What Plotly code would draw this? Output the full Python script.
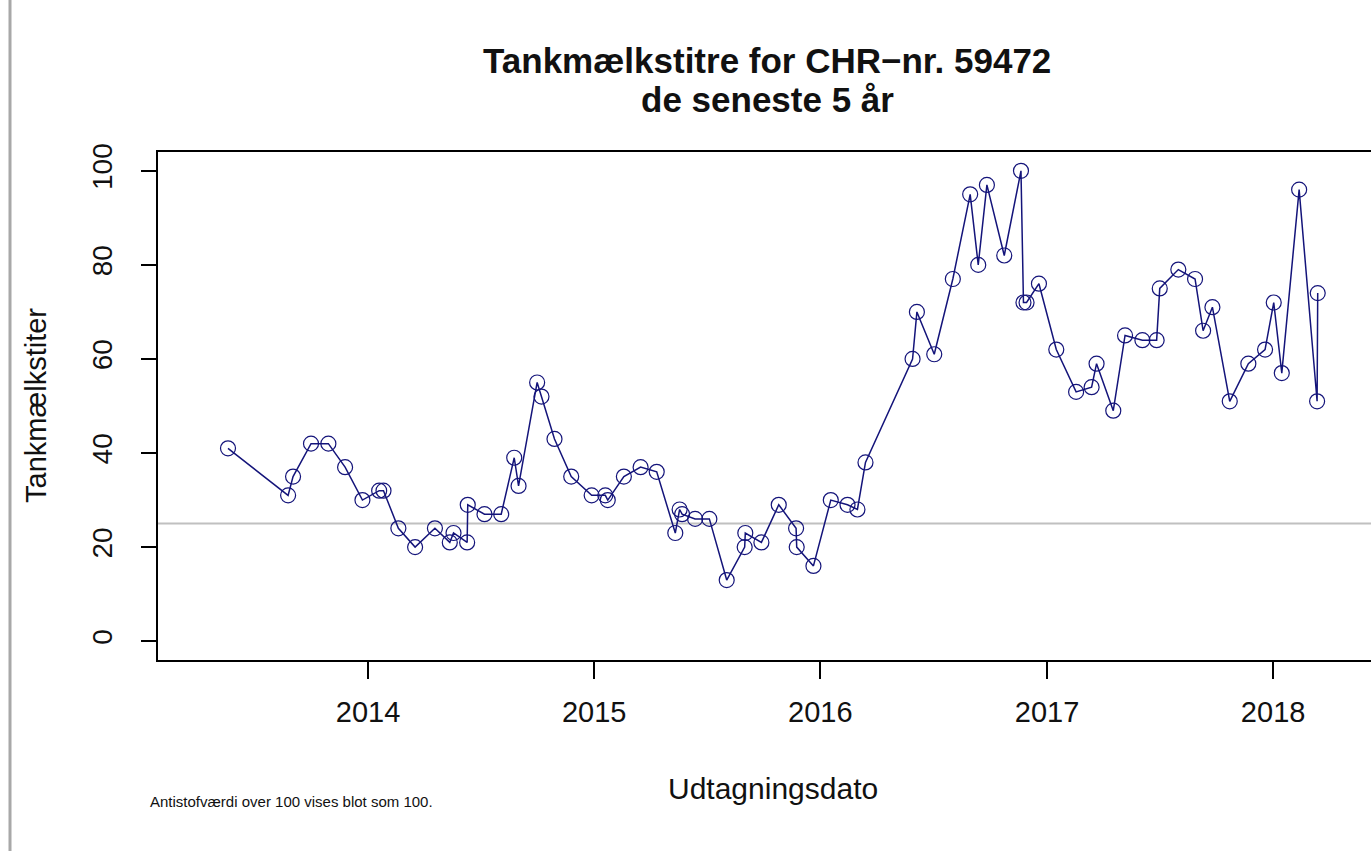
import plotly.graph_objects as go

# ---- data ----
dates = [
    "2013-05-20", "2013-08-25", "2013-09-02", "2013-10-01", "2013-10-29", "2013-11-25", "2013-12-23",
    "2014-01-19", "2014-01-26", "2014-02-19", "2014-03-18", "2014-04-19", "2014-05-13", "2014-05-19",
    "2014-06-10", "2014-06-11", "2014-07-08", "2014-08-04", "2014-08-25", "2014-09-01", "2014-10-01",
    "2014-10-08", "2014-10-29", "2014-11-25", "2014-12-28",
    "2015-01-19", "2015-01-23", "2015-02-18", "2015-03-17", "2015-04-12", "2015-05-12", "2015-05-19",
    "2015-05-23", "2015-06-13", "2015-07-06", "2015-08-03", "2015-09-01", "2015-09-02", "2015-09-28",
    "2015-10-26", "2015-11-23", "2015-11-24", "2015-12-21",
    "2016-01-18", "2016-02-14", "2016-03-01", "2016-03-14", "2016-05-29", "2016-06-05", "2016-07-03",
    "2016-08-02", "2016-08-30", "2016-09-12", "2016-09-26", "2016-10-24", "2016-11-20", "2016-11-24",
    "2016-11-29", "2016-12-19",
    "2017-01-16", "2017-02-17", "2017-03-14", "2017-03-22", "2017-04-18", "2017-05-07", "2017-06-04",
    "2017-06-27", "2017-07-02", "2017-08-01", "2017-08-28", "2017-09-10", "2017-09-25", "2017-10-23",
    "2017-11-22", "2017-12-19",
    "2018-01-02", "2018-01-15", "2018-02-12", "2018-03-13", "2018-03-14",
]
titre = [
    41, 31, 35, 42, 42, 37, 30,
    32, 32, 24, 20, 24, 21, 23, 21, 29, 27, 27, 39, 33, 55, 52, 43, 35, 31,
    31, 30, 35, 37, 36, 23, 28, 27, 26, 26, 13, 20, 23, 21, 29, 24, 20, 16,
    30, 29, 28, 38, 60, 70, 61, 77, 95, 80, 97, 82, 100, 72, 72, 76,
    62, 53, 54, 59, 49, 65, 64, 64, 75, 79, 77, 66, 71, 51, 59, 62,
    72, 57, 96, 51, 74,
]
x_tick_vals = ["2014-01-01", "2015-01-01", "2016-01-01", "2017-01-01", "2018-01-01"]
x_tick_text = ["2014", "2015", "2016", "2017", "2018"]
y_tick_vals = [0, 20, 40, 60, 80, 100]
threshold = 25

title_line1 = "Tankmælkstitre for CHR−nr. 59472"
title_line2 = "de seneste 5 år"
x_title = "Udtagningsdato"
y_title = "Tankmælkstiter"
footnote = "Antistofværdi over 100 vises blot som 100."

FONT = "Liberation Sans, Arial, sans-serif"
NAVY = "#14147a"

fig = go.Figure()
fig.add_trace(go.Scatter(
    x=dates, y=titre, mode="lines+markers",
    line=dict(color=NAVY, width=1.5),
    marker=dict(symbol="circle-open", size=15, color=NAVY, line=dict(width=1.2, color=NAVY)),
    showlegend=False, hoverinfo="x+y",
))

W, H = 1371, 851
L, T, B = 158, 152, 191


def px(xp):
    return (xp - L) / (W - L)


def py(yp):
    return (H - B - yp) / (H - T - B)


fig.add_shape(type="line", xref="paper", yref="y", x0=0, x1=1, y0=threshold, y1=threshold,
              line=dict(color="#c0c0c0", width=2), layer="below")
# page frame line on the far left
fig.add_shape(type="line", xref="paper", yref="paper",
              x0=px(10), x1=px(10), y0=py(851), y1=py(0),
              line=dict(color="#a8a8a8", width=3))

fig.update_layout(
    width=W, height=H,
    margin=dict(l=L, r=0, t=T, b=B, pad=0),
    paper_bgcolor="white", plot_bgcolor="white",
    font=dict(family=FONT, color="black"),
    xaxis=dict(
        range=["2013-01-27", "2018-06-08"],
        tickmode="array", tickvals=x_tick_vals, ticktext=x_tick_text,
        showgrid=False, zeroline=False,
        showline=True, linecolor="black", linewidth=2, mirror=True,
        ticks="outside", ticklen=17, tickwidth=2, tickcolor="black",
        tickfont=dict(size=29, family=FONT, color="#111"),
        ticklabelstandoff=8,
    ),
    yaxis=dict(
        range=[-4, 104],
        tickmode="array", tickvals=y_tick_vals,
        showgrid=False, zeroline=False,
        showline=True, linecolor="black", linewidth=2, mirror=False,
        ticks="outside", ticklen=15, tickwidth=2, tickcolor="black",
        tickangle=-90,
        tickfont=dict(size=28, family=FONT, color="#111"),
        ticklabelstandoff=18,
    ),
)

fig.add_annotation(text="<b>" + title_line1 + "</b>", xref="paper", yref="paper",
                   x=px(767), y=py(60), xanchor="center", yanchor="middle", showarrow=False,
                   font=dict(size=35, family=FONT, color="#111"))
fig.add_annotation(text="<b>" + title_line2 + "</b>", xref="paper", yref="paper",
                   x=px(767), y=py(100), xanchor="center", yanchor="middle", showarrow=False,
                   font=dict(size=35, family=FONT, color="#111"))
fig.add_annotation(text=x_title, xref="paper", yref="paper",
                   x=px(773), y=py(788), xanchor="center", yanchor="middle", showarrow=False,
                   font=dict(size=30, family=FONT, color="#111"))
fig.add_annotation(text=y_title, xref="paper", yref="paper",
                   x=px(36), y=py(406), xanchor="center", yanchor="middle", showarrow=False,
                   textangle=-90, font=dict(size=29, family=FONT, color="#111"))
fig.add_annotation(text=footnote, xref="paper", yref="paper",
                   x=px(148), y=py(801), xanchor="left", yanchor="middle", showarrow=False,
                   font=dict(size=15, family=FONT, color="#111"))

fig.write_html("out.html", config={"displayModeBar": False},
               post_script="document.body.style.margin='0';")
